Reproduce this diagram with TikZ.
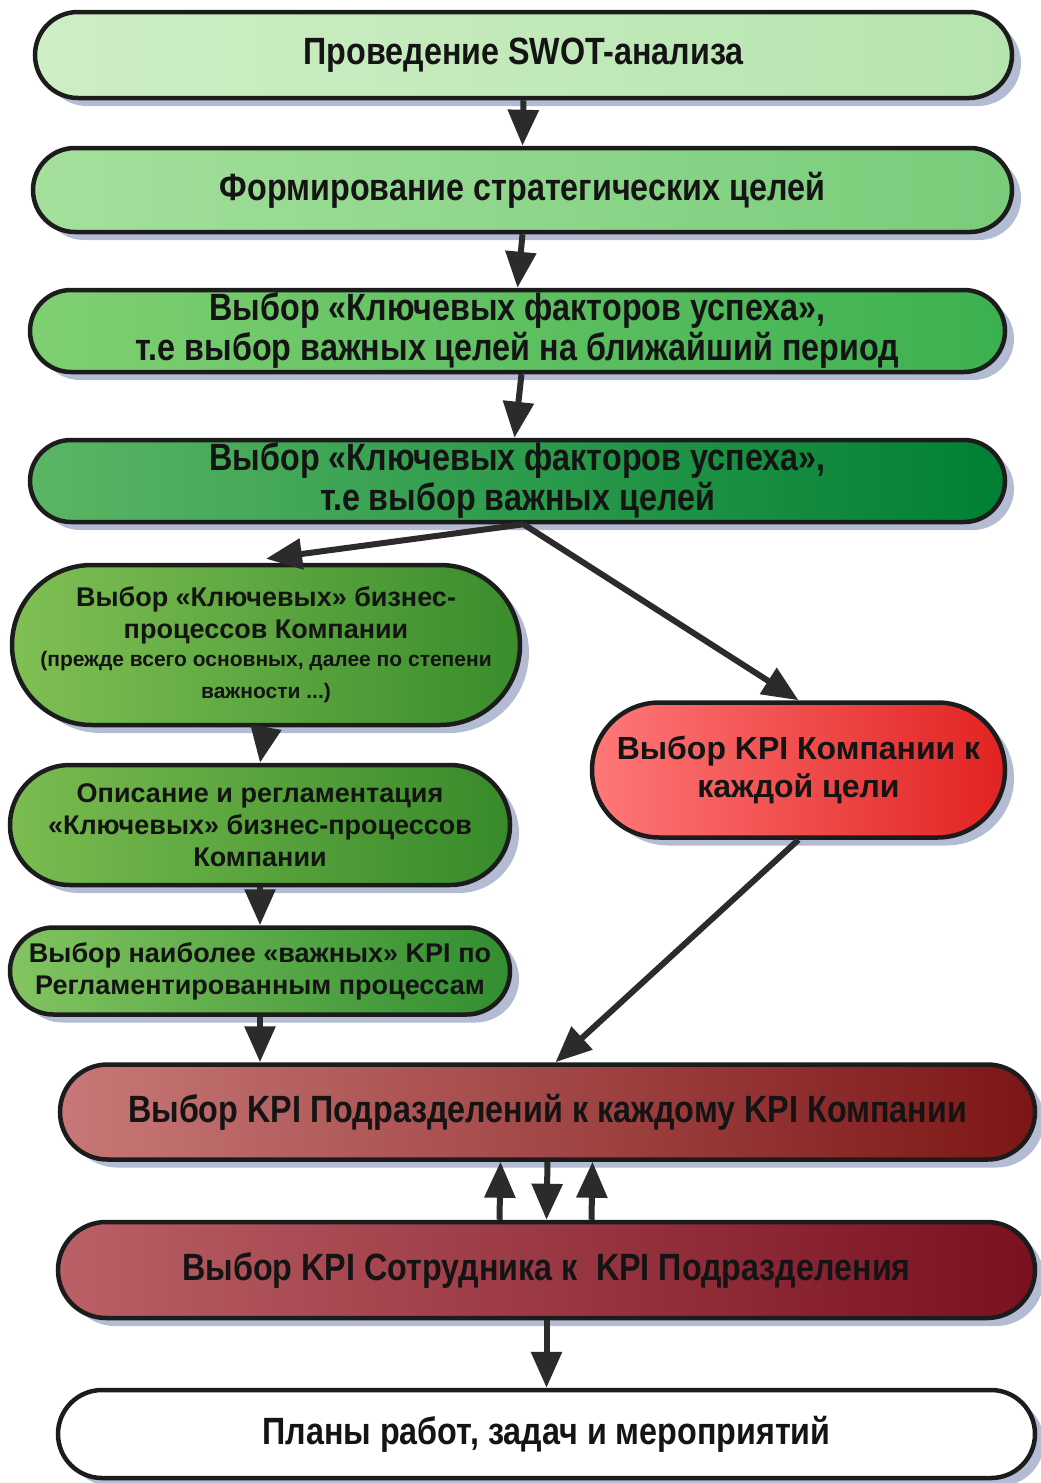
\documentclass[tikz,border=0pt]{standalone}
\usepackage{fontspec}
\setmainfont{Liberation Sans}
\newfontfamily\narrowbf[FakeStretch=0.85]{Liberation Sans Bold}
\newfontfamily\widebf{Liberation Sans Bold}
\usetikzlibrary{shapes.misc,shadows,arrows.meta}

\definecolor{edge}{HTML}{1C1C1C}
\definecolor{ink}{HTML}{141414}
\definecolor{arrowc}{HTML}{2B2B2B}
\definecolor{shadowc}{HTML}{B4BCD4}

\tikzset{
  pill/.style={rounded rectangle, draw=edge, line width=4.5pt, inner sep=0pt,
    text=ink, align=center,
    drop shadow={shadow xshift=9pt, shadow yshift=-8pt, fill=shadowc, opacity=1}},
  narrowtxt/.style={font=\narrowbf\fontsize{38}{40}\selectfont},
  widetxt/.style={font=\widebf\fontsize{27}{32}\selectfont},
  flow/.style={line width=6pt, draw=arrowc, -{Triangle[length=36pt,width=30pt]}},
}

\newcommand{\smalltxt}{\fontsize{21}{26}\selectfont}

\begin{document}
\begin{tikzpicture}[x=1pt,y=-1pt]
  \useasboundingbox (0,0) rectangle (1041,1483);

  % main chain of steps
  \node[pill, narrowtxt, minimum width=977pt, minimum height=86pt,
        left color={rgb,255:red,206;green,238;blue,198}, right color={rgb,255:red,182;green,228;blue,174}]
        (swot) at (523.5,55) {Проведение SWOT-анализа};
  \node[pill, narrowtxt, minimum width=979pt, minimum height=84pt,
        left color={rgb,255:red,164;green,224;blue,156}, right color={rgb,255:red,120;green,204;blue,122}]
        (goals) at (522.5,190) {Формирование стратегических целей};
  \node[pill, narrowtxt, minimum width=975pt, minimum height=82pt,
        left color={rgb,255:red,128;green,208;blue,114}, right color={rgb,255:red,60;green,176;blue,80}]
        (ksfnear) at (517.5,331) {Выбор «Ключевых факторов успеха»,\\т.е выбор важных целей на ближайший период};
  \node[pill, narrowtxt, minimum width=975pt, minimum height=82pt,
        left color={rgb,255:red,90;green,182;blue,100}, right color={rgb,255:red,0;green,128;blue,52}]
        (ksf) at (517.5,481) {Выбор «Ключевых факторов успеха»,\\т.е выбор важных целей};

  % left branch: business processes
  \node[pill, widetxt, minimum width=508pt, minimum height=160pt,
        left color={rgb,255:red,128;green,192;blue,84}, right color={rgb,255:red,58;green,140;blue,44}]
        (bp) at (266,645) {Выбор «Ключевых» бизнес-\\процессов Компании\\[-4pt]
        {\smalltxt (прежде всего основных, далее по степени}\\{\smalltxt важности ...)}};
  \node[pill, widetxt, minimum width=500pt, minimum height=120pt,
        left color={rgb,255:red,122;green,188;blue,80}, right color={rgb,255:red,56;green,138;blue,42}]
        (bpdesc) at (260,825) {Описание и регламентация\\«Ключевых» бизнес-процессов\\Компании};
  \node[pill, widetxt, minimum width=500pt, minimum height=87pt,
        left color={rgb,255:red,130;green,196;blue,96}, right color={rgb,255:red,50;green,142;blue,48}]
        (bpkpi) at (260,971) {Выбор наиболее «важных» KPI по\\Регламентированным процессам};

  % right branch: company KPI
  \node[pill, font=\widebf\fontsize{32}{38}\selectfont, minimum width=413pt, minimum height=135pt,
        left color={rgb,255:red,255;green,120;blue,120}, right color={rgb,255:red,226;green,34;blue,34}]
        (ckpi) at (798.5,770) {Выбор KPI Компании к\\каждой цели};

  % lower chain
  \node[pill, narrowtxt, minimum width=975pt, minimum height=95pt,
        left color={rgb,255:red,200;green,120;blue,120}, right color={rgb,255:red,124;green,22;blue,22}]
        (dkpi) at (547.5,1112) {Выбор KPI Подразделений к каждому KPI Компании};
  \node[pill, narrowtxt, minimum width=977pt, minimum height=96pt,
        left color={rgb,255:red,186;green,96;blue,102}, right color={rgb,255:red,122;green,16;blue,32}]
        (ekpi) at (546.5,1270) {Выбор KPI Сотрудника к\ \ KPI Подразделения};
  \node[pill, narrowtxt, minimum width=977pt, minimum height=88pt, fill=white]
        (plans) at (546.5,1434) {Планы работ, задач и мероприятий};

  % connectors
  \draw[flow] (swot.south) -- (goals.north);
  \draw[flow] (goals.south) -- (ksfnear.north);
  \draw[flow] ([xshift=4pt]ksfnear.south) -- ([xshift=-3pt]ksf.north);
  \draw[flow] ([xshift=6pt]ksf.south) -- ([yshift=4pt]bp.north);
  \draw[flow] ([xshift=6pt]ksf.south) -- (ckpi.north);
  \draw[flow] (bp.south) -- (bpdesc.north);
  \draw[flow] (bpdesc.south) -- (bpkpi.north);
  \draw[flow] (bpkpi.south) -- (bpkpi.south |- dkpi.north);
  \draw[flow] (ckpi.south) -- ([xshift=8pt]dkpi.north);
  \draw[flow] ([xshift=-47pt]ekpi.north) -- ([xshift=-47pt]dkpi.south);
  \draw[flow] (dkpi.south) -- (ekpi.north);
  \draw[flow] ([xshift=45pt]ekpi.north) -- ([xshift=45pt]dkpi.south);
  \draw[flow] (ekpi.south) -- (plans.north);
\end{tikzpicture}
\end{document}
